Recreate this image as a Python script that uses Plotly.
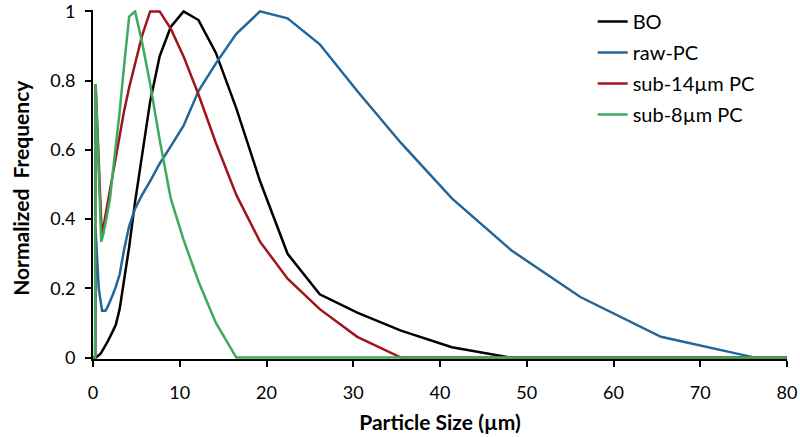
import plotly.graph_objects as go

# Particle size (µm) and normalized frequency for each sample
bo_x = [0, 0.35, 0.9, 1.22, 1.66, 2.26, 2.63, 3.07, 3.57, 4.17, 4.85, 5.66, 6.59, 7.68,
        8.96, 10.44, 12.16, 14.17, 16.52, 19.25, 22.43, 26.14, 30.46, 35.5, 41.37, 48.21, 80]
bo_y = [0, 0, 0.012, 0.025, 0.045, 0.075, 0.095, 0.14, 0.22, 0.32, 0.45, 0.59, 0.74, 0.87,
        0.955, 1.0, 0.975, 0.88, 0.72, 0.51, 0.30, 0.183, 0.13, 0.078, 0.03, 0, 0]

raw_x = [0, 0.25, 0.3, 0.66, 1.05, 1.43, 1.66, 1.94, 2.26, 2.63, 3.07, 3.57, 4.17, 4.85,
         5.66, 6.59, 7.68, 8.96, 10.44, 12.16, 14.17, 16.52, 19.25, 22.43, 26.14, 30.46,
         35.5, 41.37, 48.21, 56.18, 65.47, 76.3, 80]
raw_y = [0, 0, 0.37, 0.2, 0.135, 0.135, 0.145, 0.16, 0.18, 0.205, 0.24, 0.31, 0.38, 0.43,
         0.47, 0.51, 0.56, 0.61, 0.67, 0.77, 0.85, 0.935, 1.0, 0.98, 0.905, 0.77,
         0.62, 0.46, 0.31, 0.175, 0.06, 0, 0]

sub14_x = [0, 0.25, 0.3, 1.0, 1.22, 1.43, 1.66, 1.94, 2.26, 2.63, 3.07, 3.57, 4.17, 4.85,
           5.66, 6.59, 7.68, 8.96, 10.44, 12.16, 14.17, 16.52, 19.25, 22.43, 26.14, 30.46,
           35.5, 80]
sub14_y = [0, 0, 0.79, 0.36, 0.38, 0.41, 0.44, 0.48, 0.53, 0.58, 0.65, 0.71, 0.78, 0.85,
           0.93, 1.0, 1.0, 0.95, 0.87, 0.76, 0.62, 0.47, 0.335, 0.228, 0.14, 0.06,
           0, 0]

sub8_x = [0, 0.25, 0.3, 0.95, 1.22, 1.43, 1.66, 1.94, 2.26, 2.63, 3.07, 3.57, 4.17, 4.85,
          5.66, 6.59, 7.68, 8.96, 10.44, 12.16, 14.17, 16.52, 80]
sub8_y = [0, 0, 0.79, 0.335, 0.36, 0.39, 0.42, 0.455, 0.53, 0.61, 0.71, 0.84, 0.985, 1.0,
          0.91, 0.79, 0.63, 0.46, 0.34, 0.22, 0.1, 0, 0]

series_names = ["BO", "raw-PC", "sub-14µm PC", "sub-8µm PC"]
series_colors = ["#000000", "#23669a", "#a0151c", "#3daa5c"]

x_ticks = [0, 10, 20, 30, 40, 50, 60, 70, 80]
y_ticks = [0, 0.2, 0.4, 0.6, 0.8, 1]
y_tick_text = ["0", "0.2", "0.4", "0.6", "0.8", "1"]

FONT = "Lato, Open Sans, sans-serif"

fig = go.Figure()
for i, (xs, ys) in enumerate([(bo_x, bo_y), (raw_x, raw_y), (sub14_x, sub14_y), (sub8_x, sub8_y)]):
    fig.add_trace(go.Scatter(
        x=xs, y=ys, mode="lines", name=series_names[i],
        line=dict(color=series_colors[i], width=2.5),
        legendgroup=series_names[i],
    ))

fig.update_layout(
    width=800, height=437,
    margin=dict(l=93, r=13, t=10, b=78, autoexpand=False),
    paper_bgcolor="white", plot_bgcolor="white",
    font=dict(family=FONT, size=18, color="black"),
    showlegend=True,
    legend=dict(x=0.72, y=1.023, xanchor="left", yanchor="top",
                font=dict(size=20, family=FONT), tracegroupgap=2,
                traceorder="grouped", bgcolor="rgba(0,0,0,0)", itemwidth=30),
    xaxis=dict(range=[0, 80], tickvals=x_ticks, showgrid=False, zeroline=False,
               showline=True, linecolor="black", linewidth=2,
               ticks="outside", ticklen=6, tickwidth=2, tickcolor="black",
               ticklabelstandoff=10, ticklabeloverflow="allow",
               layer="below traces", automargin=False,
               title=dict(text="<b>Particle Size (µm)</b>", font=dict(size=21), standoff=14)),
    yaxis=dict(range=[-0.004, 1.004], tickvals=y_ticks, ticktext=y_tick_text,
               showgrid=False, zeroline=False,
               showline=True, linecolor="black", linewidth=2,
               ticks="outside", ticklen=6, tickwidth=2, tickcolor="black",
               ticklabelstandoff=6, ticklabeloverflow="allow",
               layer="below traces", automargin=False),
    annotations=[dict(text="<b>Normalized  Frequency</b>", textangle=-90,
                      xref="paper", yref="paper", x=-0.104, y=0.49,
                      xanchor="center", yanchor="middle", showarrow=False,
                      font=dict(size=21, family=FONT, color="black"))],
)

fig.write_html("out.html", config={"displayModeBar": False},
               post_script="document.body.style.margin='0px';")
